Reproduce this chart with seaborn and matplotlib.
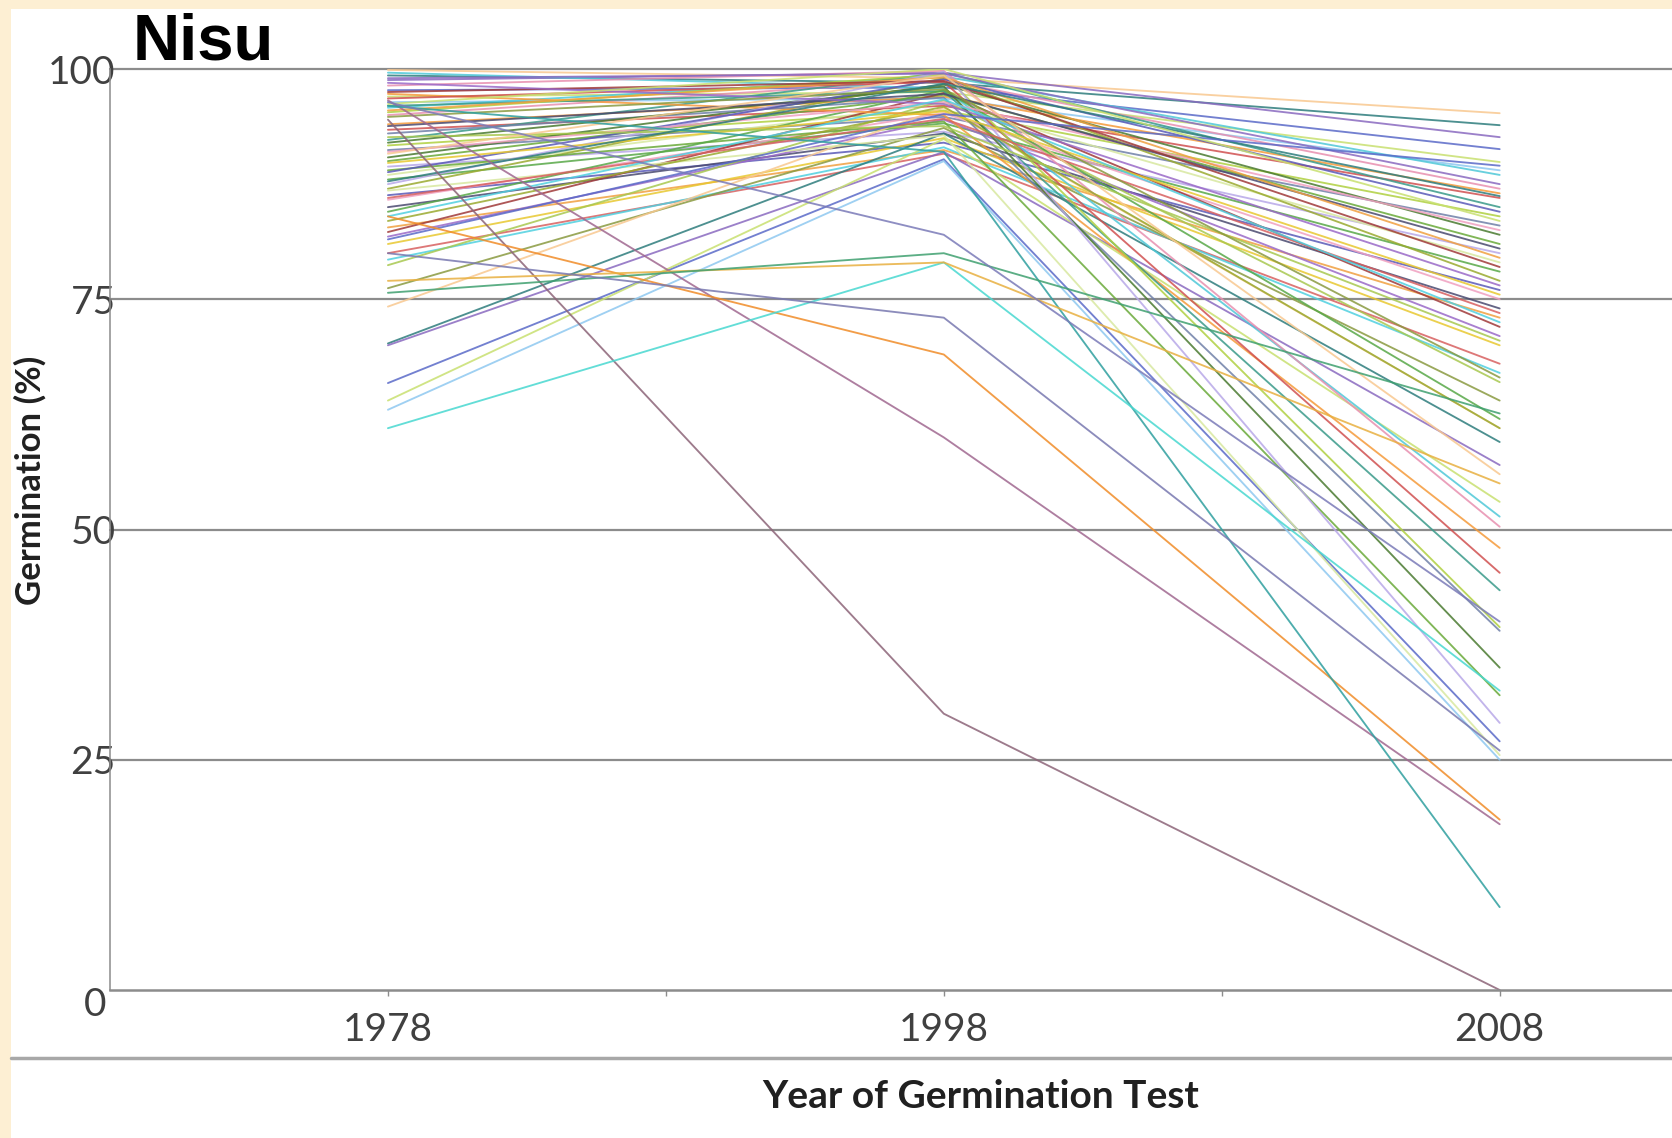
import matplotlib.pyplot as plt
import matplotlib.lines as mlines
import matplotlib.patches as mpatches
from matplotlib.ticker import FixedLocator
from matplotlib.transforms import ScaledTranslation
import pandas as pd
import seaborn as sns

years = ['1978', '1998', '2008']

# germination (%) per accession
g1978 = [99.9, 99.3, 98.8, 97.7, 97.0, 96.4, 95.8, 95.0, 94.0, 93.4,
         92.3, 91.7, 91.2, 90.4, 90.0, 89.4, 88.5, 88.0, 87.0, 86.3,
         85.8, 85.0, 82.8, 82.3, 81.8, 81.0, 80.0, 79.3, 78.7, 76.2,
         74.2, 70.2, 70.0, 65.9, 64.0, 63.0, 99.6, 98.2, 97.3, 96.8,
         96.0, 95.3, 93.0, 92.0, 89.0, 87.5, 86.8, 84.5, 83.5, 88.8,
         91.0, 93.8, 95.5, 97.5, 98.5, 89.8, 86.0, 84.0, 92.6, 94.8,
         90.8, 87.8, 99.0, 81.5, 96.2,
         94.5, 96.6, 84.0, 96.0, 61.0, 77.0, 75.7, 80.0, 96.4]
g1998 = [99.0, 98.5, 99.6, 98.0, 97.5, 96.8, 99.2, 98.8, 97.0, 96.0,
         99.6, 95.5, 94.8, 98.3, 97.2, 93.2, 96.3, 94.1, 99.0, 92.0,
         95.2, 93.0, 91.2, 97.4, 94.5, 92.5, 90.8, 91.5, 96.6, 93.6,
         95.8, 93.0, 91.0, 90.2, 92.4, 90.0, 97.9, 99.8, 95.0, 98.6,
         97.6, 99.4, 96.9, 98.1, 94.3, 99.7, 92.8, 97.7, 95.9, 98.9,
         96.4, 97.3, 99.1, 98.7, 96.2, 95.4, 94.6, 96.7, 93.8, 97.8,
         99.3, 98.4, 99.5, 95.1, 100.0,
         30.0, 60.0, 69.0, 91.0, 79.0, 79.0, 80.0, 73.0, 82.0]
g2008 = [95.2, 93.9, 92.6, 91.3, 89.9, 89.0, 88.5, 87.0, 86.5, 86.0,
         85.0, 84.0, 83.0, 82.0, 81.0, 80.0, 79.0, 78.0, 77.0, 76.0,
         75.0, 74.0, 73.0, 72.0, 71.0, 70.0, 68.0, 67.0, 66.0, 64.0,
         61.0, 59.5, 57.0, 27.0, 53.0, 25.0, 51.4, 50.3, 48.0, 45.3,
         43.4, 39.4, 39.0, 35.0, 32.0, 29.0, 25.5, 62.0, 61.0, 84.5,
         82.5, 80.5, 79.5, 78.5, 76.5, 75.5, 73.5, 72.5, 70.5, 66.5,
         56.0, 86.2, 87.5, 89.5, 83.5,
         0.0, 18.0, 18.5, 9.0, 32.5, 55.0, 62.6, 26.0, 40.0]

base_colors = ['#F8C890', '#2E7D7D', '#8A6AC0', '#5A6AC8', '#C8E070', '#8EC8F0',
               '#4FC8D8', '#E890B0', '#F59A3A', '#D05050', '#3A9A8A', '#B0D040',
               '#7080A8', '#4A7A30', '#6AAA3A', '#B8A8E8', '#D8E8A0', '#58A848',
               '#9AAA30', '#5A5AB8', '#F0A0C0', '#4A4A70', '#F0A040', '#A03A3A',
               '#9A6AC8', '#E8C830', '#D86060', '#50D0E0', '#A8C850', '#8A9A40']
special_colors = ['#8C6478', '#A06890', '#F08C28', '#2F9F9F', '#48D8D0',
                  '#E8B040', '#3FA070', '#7878B0', '#7A7AB8']

n_bulk = len(g1978) - len(special_colors)
line_colors = [base_colors[i % len(base_colors)] for i in range(n_bulk)] + special_colors

ids = ['A%02d' % i for i in range(len(g1978))]
df = pd.DataFrame({
    'accession': [a for a in ids for _ in years],
    'year': years * len(ids),
    'germination': [v for trip in zip(g1978, g1998, g2008) for v in trip],
})

sns.set_theme(style='white')
plt.rcParams['font.family'] = ['Lato', 'DejaVu Sans']

fig = plt.figure(figsize=(16.72, 11.38), dpi=100, facecolor='#FDEFD3')
fig.patches.append(mpatches.Rectangle((11 / 1672, 0), 1, 1 - 9 / 1138,
                                      transform=fig.transFigure,
                                      facecolor='white', edgecolor='none', zorder=-5))
ax = fig.add_axes([110 / 1672, 1 - 990 / 1138, 1 - 110 / 1672, 921 / 1138])
ax.set_facecolor('none')

sns.lineplot(data=df, x='year', y='germination', hue='accession',
             palette=line_colors, estimator=None, legend=False,
             linewidth=1.35, alpha=0.85, ax=ax)

ax.set_ylim(0, 100)
ax.set_xlim(-0.5, 2.31)
ax.set_yticks([0, 25, 50, 75, 100])
for v in ax.get_yticks()[1:]:
    ax.axhline(v, color='#8C8C8C', lw=1.6, zorder=0.5, clip_on=False)

for s in ['top', 'right']:
    ax.spines[s].set_visible(False)
ax.spines['left'].set_color('#8C8C8C')
ax.spines['left'].set_linewidth(1.1)
ax.spines['bottom'].set_color('#8C8C8C')
ax.spines['bottom'].set_linewidth(1.8)

ax.xaxis.set_minor_locator(FixedLocator([0.5, 1.5]))
ax.tick_params(axis='x', which='both', length=4, color='#8C8C8C', width=1, bottom=True)
ax.tick_params(axis='x', which='major', pad=12, labelsize=28, labelcolor='#404040')
ax.tick_params(axis='y', length=0, pad=-4, labelsize=28, labelcolor='#404040')
ax.set_xlabel('')
ax.set_ylabel('')

# the "0" label sits a little below and left of the baseline
zero_lbl = ax.yaxis.get_major_ticks()[0].label1
zero_lbl.set_transform(zero_lbl.get_transform()
                       + ScaledTranslation(-0.09, -0.11, fig.dpi_scale_trans))

fig.text(981 / 1672, 1 - 1096 / 1138, 'Year of Germination Test', ha='center', va='center',
         fontsize=28, fontweight='bold', color='#202020')
fig.text(30 / 1672, 1 - 480 / 1138, 'Germination (%)', ha='center', va='center',
         rotation=90, fontsize=25, fontweight='bold', color='#202020')
fig.text(133 / 1672, 1 - 60 / 1138, 'Nisu', ha='left', va='baseline',
         fontsize=47, fontweight='bold', color='black',
         family=['Liberation Sans', 'DejaVu Sans'])

fig.lines.append(mlines.Line2D([11 / 1672, 1], [1 - 1058 / 1138] * 2,
                               transform=fig.transFigure, color='#A8A8A8', lw=2.5))

fig.savefig('out.png', dpi=100, facecolor=fig.get_facecolor())
